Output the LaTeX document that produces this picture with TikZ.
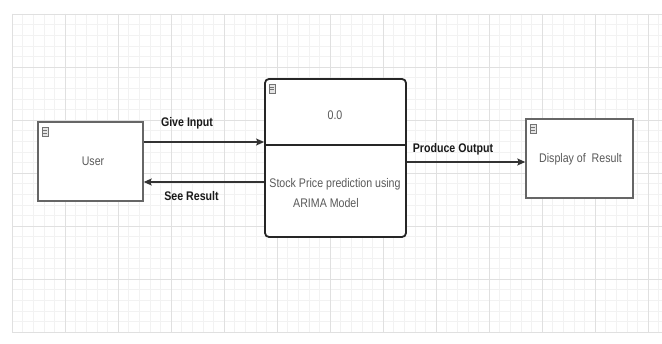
\documentclass[tikz,border=0pt]{standalone}
\usepackage{fontspec}
\setmainfont[FakeStretch=0.85]{Liberation Sans}
\usetikzlibrary{arrows.meta}
\tikzset{
  boxtxt/.style={font=\fontsize{12.5}{15}\selectfont, text=black!65},
  lbl/.style={font=\bfseries\fontsize{12.5}{15}\selectfont, text=black!90, inner sep=0pt},
  plainbox/.style={draw=black!60, line width=1.4pt, fill=white, inner sep=0pt},
  procbox/.style={draw=black!85, line width=1.8pt, fill=white, rounded corners=4pt, inner sep=0pt},
  arr/.style={draw=black!80, line width=1.2pt, -{Stealth[length=8pt,width=7pt,inset=1.5pt]}},
  minorgrid/.style={draw=black!5, line width=0.4pt},
  majorgrid/.style={draw=black!12, line width=0.5pt},
  boxicon/.pic={
    \draw[black!55, line width=0.5pt, fill=black!10] (0,0) rectangle (6,9);
    \draw[black!55, line width=0.5pt] (1,3) -- (5,3) (1,5.5) -- (5,5.5);
  }
}
\begin{document}
\begin{tikzpicture}[x=1pt, y=-1pt]
\useasboundingbox (0,0) rectangle (662,344);
\fill[white] (0,0) rectangle (662,344);
% grid
\foreach \i in {0,...,30} \draw[minorgrid] (12,14+10.6*\i) -- (662,14+10.6*\i);
\foreach \i in {0,...,61} \draw[minorgrid] (12+10.6*\i,14) -- (12+10.6*\i,332);
\foreach \i in {0,...,6} \draw[majorgrid] (12,14+53*\i) -- (662,14+53*\i);
\foreach \i in {0,...,12} \draw[majorgrid] (12+53*\i,14) -- (12+53*\i,332);

% boxes
\node[plainbox, minimum width=105pt, minimum height=79pt] (user) at (90.5,161.5) {};
\node[boxtxt] (usertxt) at (93,161) {User};
\pic at ([shift={(5,6)}]user.north west) {boxicon};

\node[procbox, minimum width=141pt, minimum height=158pt] (proc) at (335.5,158) {};
\path (proc.north west) ++(0,67) coordinate (dl);
\path (proc.north east) ++(0,67) coordinate (dr);
\draw[black!85, line width=2.4pt] (dl) -- (dr);
\pic at ([shift={(5,6)}]proc.north west) {boxicon};
\node[boxtxt] (num) at (335,115) {0.0};
\node[boxtxt] (desc1) at (335,184) {Stock Price prediction using};
\node[boxtxt] (desc2) at (326,203) {ARIMA Model};

\node[plainbox, minimum width=107pt, minimum height=79pt] (disp) at (579.5,158.5) {};
\node[boxtxt] (disptxt) at (580.5,159) {Display of \ Result};
\pic at ([shift={(5,6)}]disp.north west) {boxicon};

% connectors
\draw[arr] (user.east |- 0,142) -- (proc.west |- 0,142);
\draw[arr] (proc.west |- 0,182) -- (user.east |- 0,182);
\draw[arr] (proc.east |- 0,162) -- (disp.west |- 0,162);

% labels
\node[lbl] (give) at (187,123) {Give Input};
\node[lbl] (see) at (191.5,196) {See Result};
\node[lbl] (prod) at (453,149) {Produce Output};
\end{tikzpicture}
\end{document}
